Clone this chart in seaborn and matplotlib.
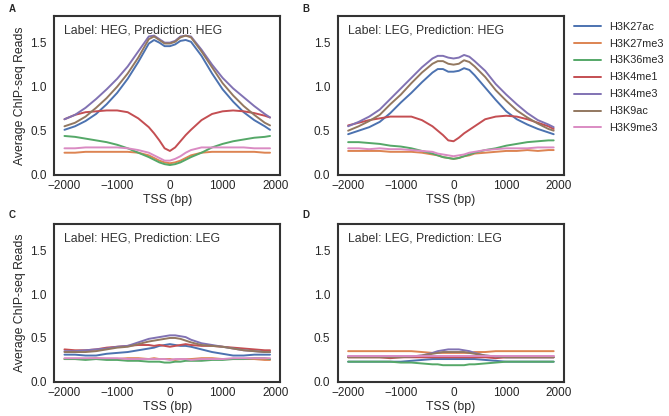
import numpy as np
import pandas as pd
import matplotlib
matplotlib.use("Agg")
import matplotlib.pyplot as plt
import seaborn as sns

# позиции относительно TSS
tss = [-2000, -1800, -1600, -1400, -1200, -1000, -800, -600, -400, -300, -200, -100, 0,
       100, 200, 300, 400, 600, 800, 1000, 1200, 1400, 1600, 1800, 1900]

marks = ['H3K27ac', 'H3K27me3', 'H3K36me3', 'H3K4me1', 'H3K4me3', 'H3K9ac', 'H3K9me3']

# A: Label HEG, Prediction HEG
a_k27ac = [0.51, 0.55, 0.61, 0.69, 0.80, 0.93, 1.09, 1.28, 1.49, 1.53, 1.50, 1.46, 1.46,
           1.48, 1.52, 1.53, 1.51, 1.35, 1.15, 0.97, 0.83, 0.71, 0.62, 0.55, 0.51]
a_k27me3 = [0.25, 0.25, 0.26, 0.26, 0.26, 0.26, 0.26, 0.25, 0.22, 0.19, 0.16, 0.14, 0.13,
            0.14, 0.16, 0.19, 0.22, 0.25, 0.26, 0.26, 0.26, 0.26, 0.26, 0.25, 0.25]
a_k36me3 = [0.44, 0.43, 0.41, 0.39, 0.37, 0.34, 0.30, 0.25, 0.20, 0.17, 0.14, 0.12, 0.11,
            0.12, 0.14, 0.17, 0.20, 0.25, 0.31, 0.35, 0.38, 0.40, 0.42, 0.43, 0.44]
a_k4me1 = [0.63, 0.68, 0.71, 0.72, 0.73, 0.73, 0.71, 0.64, 0.54, 0.47, 0.39, 0.30, 0.27,
           0.31, 0.38, 0.45, 0.51, 0.62, 0.69, 0.72, 0.73, 0.72, 0.70, 0.67, 0.65]
a_k4me3 = [0.63, 0.68, 0.76, 0.86, 0.97, 1.09, 1.23, 1.40, 1.57, 1.58, 1.54, 1.50, 1.50,
           1.52, 1.57, 1.58, 1.57, 1.42, 1.25, 1.10, 0.98, 0.88, 0.78, 0.69, 0.65]
a_k9ac = [0.55, 0.59, 0.66, 0.76, 0.87, 1.00, 1.15, 1.33, 1.54, 1.57, 1.53, 1.49, 1.49,
          1.51, 1.56, 1.58, 1.56, 1.40, 1.22, 1.04, 0.90, 0.78, 0.68, 0.59, 0.56]
a_k9me3 = [0.30, 0.30, 0.31, 0.31, 0.31, 0.31, 0.30, 0.28, 0.25, 0.22, 0.19, 0.16, 0.16,
           0.18, 0.21, 0.25, 0.28, 0.31, 0.31, 0.31, 0.31, 0.31, 0.30, 0.30, 0.30]

# B: Label LEG, Prediction HEG
b_k27ac = [0.46, 0.50, 0.54, 0.60, 0.70, 0.82, 0.93, 1.05, 1.16, 1.20, 1.20, 1.17, 1.17,
           1.18, 1.21, 1.19, 1.13, 0.99, 0.85, 0.72, 0.63, 0.57, 0.52, 0.48, 0.46]
b_k27me3 = [0.27, 0.27, 0.27, 0.27, 0.26, 0.26, 0.26, 0.25, 0.23, 0.22, 0.20, 0.19, 0.18,
            0.19, 0.21, 0.22, 0.24, 0.25, 0.26, 0.27, 0.27, 0.28, 0.27, 0.28, 0.28]
b_k36me3 = [0.37, 0.37, 0.36, 0.35, 0.33, 0.32, 0.30, 0.27, 0.24, 0.22, 0.20, 0.19, 0.18,
            0.19, 0.21, 0.23, 0.25, 0.28, 0.30, 0.33, 0.35, 0.37, 0.38, 0.39, 0.39]
b_k4me1 = [0.56, 0.59, 0.62, 0.64, 0.66, 0.66, 0.66, 0.62, 0.55, 0.50, 0.45, 0.39, 0.38,
           0.42, 0.47, 0.51, 0.55, 0.63, 0.66, 0.67, 0.66, 0.63, 0.59, 0.55, 0.52]
b_k4me3 = [0.55, 0.60, 0.66, 0.74, 0.86, 0.98, 1.10, 1.22, 1.32, 1.35, 1.35, 1.33, 1.32,
           1.33, 1.36, 1.34, 1.29, 1.18, 1.03, 0.91, 0.80, 0.70, 0.62, 0.57, 0.54]
b_k9ac = [0.50, 0.55, 0.61, 0.68, 0.80, 0.91, 1.04, 1.16, 1.26, 1.29, 1.29, 1.26, 1.25,
          1.26, 1.30, 1.28, 1.23, 1.11, 0.96, 0.84, 0.73, 0.65, 0.58, 0.52, 0.50]
b_k9me3 = [0.30, 0.30, 0.29, 0.30, 0.29, 0.29, 0.28, 0.27, 0.26, 0.24, 0.23, 0.22, 0.21,
           0.22, 0.23, 0.25, 0.26, 0.28, 0.29, 0.30, 0.30, 0.30, 0.31, 0.31, 0.31]

# C: Label HEG, Prediction LEG
c_k27ac = [0.31, 0.31, 0.30, 0.30, 0.32, 0.33, 0.34, 0.36, 0.38, 0.39, 0.41, 0.42, 0.43,
           0.42, 0.41, 0.41, 0.40, 0.37, 0.34, 0.32, 0.30, 0.30, 0.31, 0.31, 0.31]
c_k27me3 = [0.26, 0.26, 0.26, 0.27, 0.26, 0.26, 0.27, 0.27, 0.26, 0.27, 0.26, 0.26, 0.26,
            0.25, 0.26, 0.26, 0.26, 0.27, 0.27, 0.26, 0.26, 0.26, 0.26, 0.25, 0.25]
c_k36me3 = [0.26, 0.26, 0.25, 0.26, 0.25, 0.25, 0.24, 0.24, 0.23, 0.23, 0.23, 0.22, 0.22,
            0.23, 0.23, 0.24, 0.24, 0.24, 0.25, 0.25, 0.26, 0.26, 0.27, 0.27, 0.26]
c_k4me1 = [0.37, 0.36, 0.36, 0.37, 0.39, 0.40, 0.41, 0.42, 0.42, 0.41, 0.42, 0.41, 0.40,
           0.41, 0.42, 0.43, 0.42, 0.41, 0.41, 0.40, 0.39, 0.38, 0.37, 0.36, 0.36]
c_k4me3 = [0.35, 0.35, 0.36, 0.37, 0.38, 0.40, 0.41, 0.45, 0.49, 0.50, 0.51, 0.52, 0.53,
           0.53, 0.52, 0.51, 0.48, 0.44, 0.42, 0.40, 0.38, 0.36, 0.35, 0.34, 0.34]
c_k9ac = [0.34, 0.34, 0.34, 0.35, 0.37, 0.39, 0.40, 0.43, 0.46, 0.47, 0.48, 0.49, 0.50,
          0.50, 0.49, 0.47, 0.45, 0.42, 0.41, 0.40, 0.38, 0.36, 0.35, 0.34, 0.34]
c_k9me3 = [0.27, 0.27, 0.27, 0.27, 0.27, 0.27, 0.26, 0.26, 0.26, 0.26, 0.26, 0.26, 0.25,
           0.26, 0.26, 0.26, 0.25, 0.26, 0.26, 0.26, 0.27, 0.27, 0.27, 0.27, 0.27]

# D: Label LEG, Prediction LEG
d_k27ac = [0.23, 0.23, 0.23, 0.23, 0.23, 0.23, 0.24, 0.25, 0.26, 0.26, 0.26, 0.26, 0.26,
           0.26, 0.26, 0.26, 0.26, 0.25, 0.24, 0.23, 0.23, 0.23, 0.23, 0.23, 0.23]
d_k27me3 = [0.35, 0.35, 0.35, 0.35, 0.35, 0.35, 0.35, 0.34, 0.33, 0.33, 0.33, 0.33, 0.33,
            0.33, 0.33, 0.33, 0.34, 0.34, 0.35, 0.35, 0.35, 0.35, 0.35, 0.35, 0.35]
d_k36me3 = [0.23, 0.23, 0.23, 0.23, 0.23, 0.22, 0.22, 0.21, 0.20, 0.20, 0.19, 0.19, 0.19,
            0.19, 0.19, 0.20, 0.20, 0.21, 0.22, 0.23, 0.23, 0.23, 0.23, 0.23, 0.23]
d_k4me1 = [0.28, 0.28, 0.28, 0.28, 0.27, 0.28, 0.28, 0.28, 0.28, 0.28, 0.28, 0.28, 0.28,
           0.28, 0.28, 0.28, 0.28, 0.28, 0.27, 0.28, 0.28, 0.28, 0.28, 0.28, 0.28]
d_k4me3 = [0.29, 0.29, 0.29, 0.29, 0.29, 0.29, 0.29, 0.30, 0.33, 0.35, 0.36, 0.37, 0.37,
           0.37, 0.36, 0.35, 0.33, 0.30, 0.29, 0.28, 0.28, 0.28, 0.28, 0.28, 0.28]
d_k9ac = [0.28, 0.28, 0.28, 0.28, 0.28, 0.28, 0.29, 0.30, 0.32, 0.33, 0.34, 0.34, 0.34,
          0.34, 0.34, 0.33, 0.32, 0.30, 0.29, 0.28, 0.28, 0.28, 0.28, 0.28, 0.28]
d_k9me3 = [0.30, 0.30, 0.30, 0.30, 0.30, 0.30, 0.30, 0.30, 0.30, 0.30, 0.30, 0.30, 0.30,
           0.30, 0.30, 0.30, 0.30, 0.30, 0.30, 0.30, 0.30, 0.30, 0.30, 0.30, 0.30]

panels = [
    ('A', 'Label: HEG, Prediction: HEG', [a_k27ac, a_k27me3, a_k36me3, a_k4me1, a_k4me3, a_k9ac, a_k9me3]),
    ('B', 'Label: LEG, Prediction: HEG', [b_k27ac, b_k27me3, b_k36me3, b_k4me1, b_k4me3, b_k9ac, b_k9me3]),
    ('C', 'Label: HEG, Prediction: LEG', [c_k27ac, c_k27me3, c_k36me3, c_k4me1, c_k4me3, c_k9ac, c_k9me3]),
    ('D', 'Label: LEG, Prediction: LEG', [d_k27ac, d_k27me3, d_k36me3, d_k4me1, d_k4me3, d_k9ac, d_k9me3]),
]

sns.set_theme(style='white', palette='deep')
plt.rcParams['font.family'] = ['Liberation Sans', 'DejaVu Sans']

fig = plt.figure(figsize=(6.69, 4.16), dpi=100)

# положение осей в долях фигуры: left, bottom, width, height
boxes = [(0.081, 0.580, 0.338, 0.381), (0.505, 0.580, 0.338, 0.381),
         (0.081, 0.082, 0.338, 0.380), (0.505, 0.082, 0.338, 0.380)]
letter_pos = [(0.013, 0.978), (0.452, 0.978), (0.013, 0.482), (0.452, 0.482)]

for i, (letter, title, series) in enumerate(panels):
    ax = fig.add_axes(boxes[i])
    df = pd.DataFrame({'tss': tss * len(marks),
                       'reads': np.concatenate(series),
                       'mark': np.repeat(marks, len(tss))})
    sns.lineplot(data=df, x='tss', y='reads', hue='mark', hue_order=marks,
                 linewidth=1.4, ax=ax, legend=(i == 0))
    ax.set_ylim(0, 1.8)
    ax.set_xticks([-2000, -1000, 0, 1000, 2000])
    ax.set_yticks([0.0, 0.5, 1.0, 1.5])
    ax.tick_params(axis='x', labelsize=8.5, length=0, pad=3.6)
    ax.tick_params(axis='y', labelsize=8.5, length=0, pad=5.5)
    ax.set_xlabel('TSS (bp)', fontsize=8.8, labelpad=1.5)
    ax.set_ylabel('Average ChIP-seq Reads' if i % 2 == 0 else '', fontsize=8.8, labelpad=3)
    for s in ax.spines.values():
        s.set_color('#333333')
        s.set_linewidth(1.5)
    ax.text(0.045, 0.91, title, transform=ax.transAxes, fontsize=8.8, va='center', color='#333333')
    fig.text(letter_pos[i][0], letter_pos[i][1], letter, fontsize=7, fontweight='bold', va='center')
    if i == 0:
        handles, labels = ax.get_legend_handles_labels()
        ax.get_legend().remove()
        fig.legend(handles, labels, loc='upper left', bbox_to_anchor=(0.858, 0.948),
                   frameon=False, fontsize=7.8, handlelength=2.5, handletextpad=0.75,
                   labelspacing=0.64, borderpad=0, borderaxespad=0)

fig.savefig('out.png', dpi=100)
